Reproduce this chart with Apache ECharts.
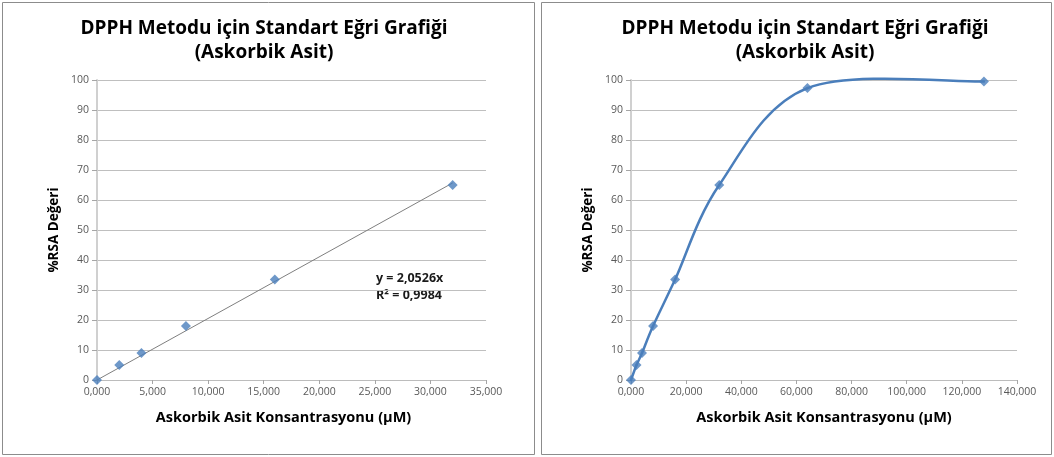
<!DOCTYPE html>
<html>
<head>
<meta charset="utf-8">
<script src="https://cdn.jsdelivr.net/npm/echarts@6/dist/echarts.min.js"></script>
<style>
  html, body { margin: 0; padding: 0; background: #fff; }
  #chart { width: 1054px; height: 457px; }
</style>
</head>
<body>
<div id="chart"></div>
<script>
// Ascorbic acid concentrations (µM) and radical scavenging activity (%RSA)
const concLinear = [0, 2, 4, 8, 16, 32];
const rsaLinear = [0, 5, 9, 18, 33.5, 65];
const concFull = [0, 2, 4, 8, 16, 32, 64, 128];
const rsaFull = [0, 5, 9, 18, 33.5, 65, 97.3, 99.5];
const yTicks = [0, 10, 20, 30, 40, 50, 60, 70, 80, 90, 100];
const slope = 2.0526;
const rSquared = '0,9984';

const titleText = 'DPPH Metodu için Standart Eğri Grafiği\n(Askorbik Asit)';
const xName = 'Askorbik Asit Konsantrasyonu (µM)';
const yName = '%RSA Değeri';
const FONT = '"Open Sans", Lato, sans-serif';
const BLUE = '#4a7ebb';

const fmtX = v => v.toFixed(3).replace('.', ',');

function xAxis(gridIndex, max, interval, namePadding) {
  return {
    gridIndex, type: 'value', min: 0, max, interval,
    name: xName, nameLocation: 'middle', nameGap: 30,
    nameTextStyle: { fontFamily: FONT, fontWeight: 'bold', fontSize: 14.5, color: '#000', padding: namePadding },
    axisLine: { lineStyle: { color: '#bcbcbc', width: 1 } },
    axisTick: { show: true, length: 4, lineStyle: { color: '#a6a6a6' } },
    axisLabel: { formatter: fmtX, fontFamily: FONT, fontSize: 10.5, color: '#595959', margin: 7 },
    splitLine: { show: false }
  };
}
function yAxis(gridIndex) {
  return {
    gridIndex, type: 'value', min: yTicks[0], max: yTicks[yTicks.length - 1], interval: yTicks[1] - yTicks[0],
    name: yName, nameLocation: 'middle', nameGap: 36,
    nameTextStyle: { fontFamily: FONT, fontWeight: 'bold', fontSize: 13.5, color: '#000' },
    axisLine: { show: true, lineStyle: { color: '#d0d0d0', width: 2 } },
    axisTick: { show: true, length: 5, lineStyle: { color: '#a6a6a6' } },
    axisLabel: { fontFamily: FONT, fontSize: 10.5, color: '#595959', margin: 8 },
    splitLine: { lineStyle: { color: '#bfbfbf', width: 1 } }
  };
}
const titleStyle = { fontFamily: FONT, fontWeight: 'bold', fontSize: 19, color: '#000', lineHeight: 24 };

// Smoothed curve through the points: cubic Bézier segments with
// Catmull-Rom style control points (neighbour difference / 6).
function renderSmooth(params, api) {
  const i = params.dataIndex;
  const n = concFull.length;
  if (i >= n - 1) return null;
  const p = k => {
    const j = Math.max(0, Math.min(n - 1, k));
    return api.coord([concFull[j], rsaFull[j]]);
  };
  const p0 = p(i - 1), p1 = p(i), p2 = p(i + 1), p3 = p(i + 2);
  return {
    type: 'bezierCurve',
    shape: {
      x1: p1[0], y1: p1[1], x2: p2[0], y2: p2[1],
      cpx1: p1[0] + (p2[0] - p0[0]) / 6, cpy1: p1[1] + (p2[1] - p0[1]) / 6,
      cpx2: p2[0] - (p3[0] - p1[0]) / 6, cpy2: p2[1] - (p3[1] - p1[1]) / 6
    },
    style: { stroke: BLUE, lineWidth: 2.5, fill: null, lineCap: 'round' }
  };
}

const chart = echarts.init(document.getElementById('chart'), null, { renderer: 'canvas' });
chart.setOption({
  animation: false,
  backgroundColor: '#fff',
  title: [
    { text: titleText, left: 259, top: 12, textAlign: 'center', textStyle: titleStyle },
    { text: titleText, left: 800, top: 12, textAlign: 'center', textStyle: titleStyle }
  ],
  grid: [
    { left: 97, top: 80, width: 389, height: 300 },
    { left: 631, top: 80, width: 386, height: 300 }
  ],
  xAxis: [xAxis(0, 35, 5, [0, 16, 0, 0]), xAxis(1, 140, 20, 0)],
  yAxis: [yAxis(0), yAxis(1)],
  graphic: [
    { type: 'rect', shape: { x: 2.5, y: 2.5, width: 532, height: 452 }, style: { fill: 'none', stroke: '#8c8c8c', lineWidth: 1 }, z: -1 },
    { type: 'rect', shape: { x: 541.5, y: 2.5, width: 510, height: 452 }, style: { fill: 'none', stroke: '#8c8c8c', lineWidth: 1 }, z: -1 },
    { type: 'text', left: 376, top: 270, style: { text: 'y = ' + String(slope).replace('.', ',') + 'x\nR² = ' + rSquared, font: 'bold 12.5px ' + FONT, fill: '#1a1a1a', lineHeight: 17 } }
  ],
  series: [
    {
      type: 'line', xAxisIndex: 0, yAxisIndex: 0,
      data: [[0, 0], [concLinear[concLinear.length - 1], slope * concLinear[concLinear.length - 1]]],
      symbol: 'none', lineStyle: { color: '#7f7f7f', width: 1 }, z: 2
    },
    {
      type: 'scatter', xAxisIndex: 0, yAxisIndex: 0,
      data: concLinear.map((c, i) => [c, rsaLinear[i]]),
      symbol: 'diamond', symbolSize: 10, itemStyle: { color: BLUE }, z: 3
    },
    {
      type: 'custom', xAxisIndex: 1, yAxisIndex: 1, clip: false,
      data: concFull.map((c, i) => [c, rsaFull[i]]),
      renderItem: renderSmooth, z: 3
    },
    {
      type: 'scatter', xAxisIndex: 1, yAxisIndex: 1,
      data: concFull.map((c, i) => [c, rsaFull[i]]),
      symbol: 'diamond', symbolSize: 10, itemStyle: { color: BLUE }, z: 4
    }
  ]
});
</script>
</body>
</html>
